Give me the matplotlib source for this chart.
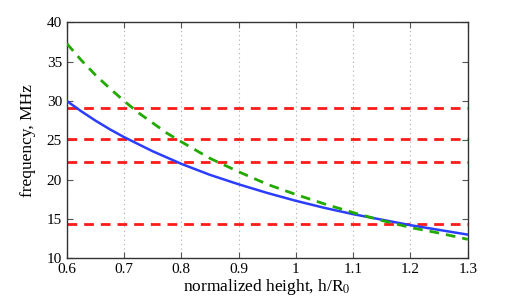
import matplotlib
matplotlib.use("Agg")
import matplotlib.pyplot as plt

h = [0.6, 0.625, 0.65, 0.675, 0.7, 0.725, 0.75, 0.775, 0.8, 0.85, 0.9, 0.95, 1.0,
     1.05, 1.1, 1.15, 1.2, 1.25, 1.3]
f_blue = [30.0, 28.7, 27.5, 26.4, 25.4, 24.5, 23.6, 22.8, 22.0, 20.6, 19.4, 18.3, 17.3,
          16.4, 15.6, 14.9, 14.2, 13.6, 13.0]
f_green = [37.3, 35.2, 33.3, 31.6, 30.0, 28.5, 27.2, 25.9, 24.8, 22.7, 21.0, 19.4, 18.1,
           16.9, 15.8, 14.8, 13.9, 13.2, 12.4]
f_levels = [29.15, 25.2, 22.2, 14.35]

xticks = [0.6, 0.7, 0.8, 0.9, 1.0, 1.1, 1.2, 1.3]
xticklabels = ['0.6', '0.7', '0.8', '0.9', '1', '1.1', '1.2', '1.3']
yticks = [10, 15, 20, 25, 30, 35, 40]

plt.rcParams['font.family'] = ['Liberation Serif', 'DejaVu Serif']
plt.rcParams['mathtext.fontset'] = 'stix'

fig = plt.figure(figsize=(5.18, 3.02), dpi=100)
ax = fig.add_axes([0.129, 0.145, 0.774, 0.781])

for lv in f_levels:
    ax.axhline(lv, color='#ff1a1a', lw=2, ls=(0, (3.5, 2.5)), zorder=2)
ax.plot(h, f_blue, color='#2b3dff', lw=1.8, zorder=3)
ax.plot(h, f_green, color='#22aa00', lw=2, ls=(0, (3.5, 2.5)), zorder=3)

ax.set_xlim(0.6, 1.3)
ax.set_ylim(10, 40)
ax.set_xticks(xticks)
ax.set_xticklabels(xticklabels)
ax.set_yticks(yticks)
ax.grid(axis='x', color='#aaaaaa', ls=(0, (1, 3)), lw=0.8)
ax.tick_params(direction='in', top=True, right=True, labelsize=11, length=4, color='#555555')
for s in ax.spines.values():
    s.set_color('#333333')
    s.set_linewidth(1.0)
ax.set_xlabel('normalized height, h/R$_0$', fontsize=12.5, labelpad=1)
ax.set_ylabel('frequency, MHz', fontsize=12.5, labelpad=8)

fig.savefig('out.png', dpi=100)
